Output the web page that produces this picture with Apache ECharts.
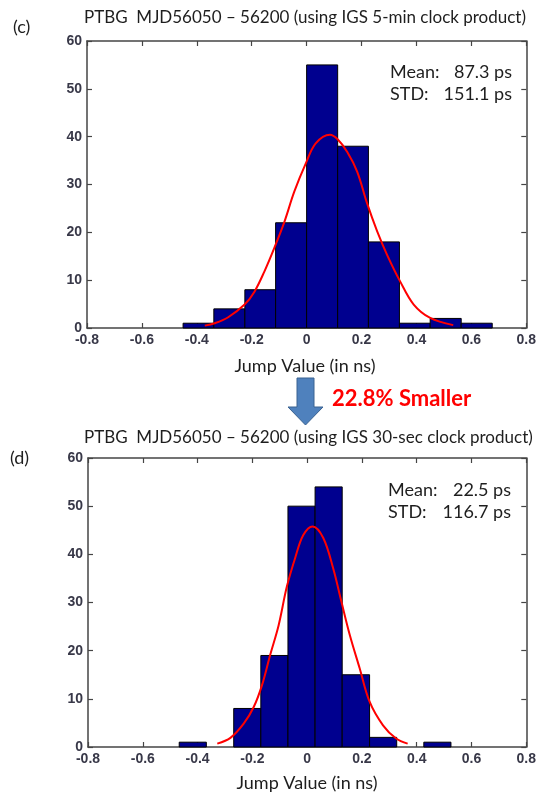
<!DOCTYPE html>
<html>
<head>
<meta charset="utf-8">
<script src="https://cdn.jsdelivr.net/npm/echarts@6/dist/echarts.min.js"></script>
<style>
  html, body { margin: 0; padding: 0; background: #fff; }
  #chart { width: 539px; height: 794px; }
</style>
</head>
<body>
<div id="chart"></div>
<script>
// Histogram (c): IGS 5-min clock product
const binEdgesC = [-0.450, -0.338, -0.225, -0.113, 0.000, 0.113, 0.225, 0.338, 0.450, 0.563, 0.676];
const countsC = [1, 4, 8, 22, 55, 38, 18, 1, 2, 1];
// Fitted normal curve drawn over (c)
const fitCx = [-0.371, -0.335, -0.287, -0.226, -0.190, -0.154, -0.118, -0.081, -0.045, -0.003, 0.033, 0.085, 0.112, 0.148, 0.184, 0.220, 0.257, 0.293, 0.341, 0.390, 0.450, 0.534];
const fitCy = [0.5, 1.0, 2.2, 4.9, 7.6, 11.8, 16.7, 22.2, 28.5, 34.4, 38.6, 40.4, 39.5, 36.8, 32.7, 26.1, 20.2, 15.3, 9.7, 4.9, 2.1, 0.6];

// Histogram (d): IGS 30-sec clock product
const binEdgesD = [-0.467, -0.368, -0.268, -0.169, -0.070, 0.029, 0.128, 0.228, 0.327, 0.426, 0.525];
const countsD = [1, 0, 8, 19, 50, 54, 15, 2, 0, 1];
const fitDx = [-0.328, -0.280, -0.231, -0.195, -0.165, -0.135, -0.104, -0.074, -0.044, -0.014, 0.020, 0.059, 0.095, 0.125, 0.156, 0.192, 0.228, 0.277, 0.325, 0.367];
const fitDy = [0.7, 1.9, 4.9, 8.3, 12.8, 19.1, 25.3, 33.3, 39.2, 44.0, 45.8, 43.4, 37.1, 30.2, 23.2, 16.3, 9.4, 4.5, 1.75, 0.7];

const titleC = 'PTBG  MJD56050 \u2013 56200 (using IGS 5-min clock product)';
const titleD = 'PTBG  MJD56050 \u2013 56200 (using IGS 30-sec clock product)';
const statsC = { mean: '87.3 ps', std: '151.1 ps' };
const statsD = { mean: '22.5 ps', std: '116.7 ps' };
const xAxisTitle = 'Jump Value (in ns)';
const changeLabel = '22.8% Smaller';

const TXT = '#1e1e1e';
const AX = '#454545';
const LBL = '#383848';
const SANS = 'Lato, "Open Sans", sans-serif';
const TICKFONT = '"Liberation Sans", Arial, sans-serif';

function binData(edges, counts) {
  const out = [];
  counts.forEach((c, i) => { if (c > 0) out.push([edges[i], edges[i + 1], c]); });
  return out;
}
function curveData(xs, ys) { return xs.map((x, i) => [x, ys[i]]); }

function fmtX(v) { return Math.abs(v) < 1e-9 ? '0' : Number(v).toFixed(1); }

function xAxes(gi) {
  return [
    {
      gridIndex: gi, type: 'value', min: -0.8, max: 0.8, interval: 0.2,
      axisLine: { show: true, onZero: false, lineStyle: { color: AX, width: 1.5 } },
      axisTick: { inside: true, length: 5, lineStyle: { color: AX, width: 1.2 } },
      axisLabel: { formatter: fmtX, color: LBL, fontFamily: TICKFONT, fontWeight: 'bold', fontSize: 14, margin: 5 },
      splitLine: { show: false }
    },
    {
      gridIndex: gi, type: 'value', position: 'top', min: -0.8, max: 0.8, interval: 0.2,
      axisLine: { show: true, onZero: false, lineStyle: { color: AX, width: 1.5 } },
      axisTick: { inside: true, length: 5, lineStyle: { color: AX, width: 1.2 } },
      axisLabel: { show: false }, splitLine: { show: false }
    }
  ];
}
function yAxes(gi) {
  return [
    {
      gridIndex: gi, type: 'value', min: 0, max: 60, interval: 10,
      axisLine: { show: true, onZero: false, lineStyle: { color: AX, width: 1.5 } },
      axisTick: { show: true, inside: true, length: 5, lineStyle: { color: AX, width: 1.2 } },
      axisLabel: { color: LBL, fontFamily: TICKFONT, fontWeight: 'bold', fontSize: 14, margin: 5 },
      splitLine: { show: false }
    },
    {
      gridIndex: gi, type: 'value', position: 'right', min: 0, max: 60, interval: 10,
      axisLine: { show: true, onZero: false, lineStyle: { color: AX, width: 1.5 } },
      axisTick: { show: true, inside: true, length: 5, lineStyle: { color: AX, width: 1.2 } },
      axisLabel: { show: false }, splitLine: { show: false }
    }
  ];
}

function histSeries(axisBase, edges, counts) {
  return {
    type: 'custom', xAxisIndex: axisBase, yAxisIndex: axisBase,
    data: binData(edges, counts),
    encode: { x: [0, 1], y: 2 },
    renderItem: function (params, api) {
      const p0 = api.coord([api.value(0), api.value(2)]);
      const p1 = api.coord([api.value(1), 0]);
      return {
        type: 'rect',
        shape: { x: p0[0], y: p0[1], width: p1[0] - p0[0], height: p1[1] - p0[1] },
        style: { fill: '#00008f', stroke: '#000', lineWidth: 1 }
      };
    },
    z: 2
  };
}
function fitSeries(axisBase, xs, ys) {
  return {
    type: 'line', xAxisIndex: axisBase, yAxisIndex: axisBase,
    data: curveData(xs, ys), smooth: 0.35, showSymbol: false,
    lineStyle: { color: '#ff0000', width: 2 }, z: 3
  };
}

function text(x, y, str, opts) {
  return Object.assign({
    type: 'text', x: x, y: y,
    style: Object.assign({ text: str, fill: TXT, font: '18px ' + SANS, textAlign: 'left', textVerticalAlign: 'middle' }, opts || {})
  });
}

const chart = echarts.init(document.getElementById('chart'), null, { renderer: 'canvas' });
chart.setOption({
  animation: false,
  backgroundColor: '#ffffff',
  grid: [
    { left: 87, top: 41, width: 441, height: 287 },
    { left: 88, top: 458, width: 441, height: 289 }
  ],
  xAxis: xAxes(0).concat(xAxes(1)),
  yAxis: yAxes(0).concat(yAxes(1)),
  series: [
    histSeries(0, binEdgesC, countsC),
    fitSeries(0, fitCx, fitCy),
    histSeries(2, binEdgesD, countsD),
    fitSeries(2, fitDx, fitDy)
  ],
  graphic: [
    text(84, 18, titleC, { font: '17px ' + SANS }),
    text(13, 27, '(c)'),
    text(390, 72.5, 'Mean:'),
    text(512, 72.5, statsC.mean, { textAlign: 'right' }),
    text(390, 94.5, 'STD:'),
    text(512, 94.5, statsC.std, { textAlign: 'right' }),
    text(305, 366, xAxisTitle, { textAlign: 'center' }),

    {
      type: 'polygon',
      shape: { points: [[297, 378], [314, 378], [314, 407], [323, 407], [305.5, 425], [288, 407], [297, 407]] },
      style: { fill: '#4f81bd', stroke: '#3a6291', lineWidth: 1 }
    },
    text(332, 399, changeLabel, { fill: '#ff0000', font: 'bold 22px ' + SANS }),

    text(84, 438, titleD, { font: '17px ' + SANS }),
    text(10, 458, '(d)'),
    text(388, 490, 'Mean:'),
    text(511, 490, statsD.mean, { textAlign: 'right' }),
    text(388, 512.5, 'STD:'),
    text(511, 512.5, statsD.std, { textAlign: 'right' }),
    text(307, 783, xAxisTitle, { textAlign: 'center' })
  ]
});
</script>
</body>
</html>
